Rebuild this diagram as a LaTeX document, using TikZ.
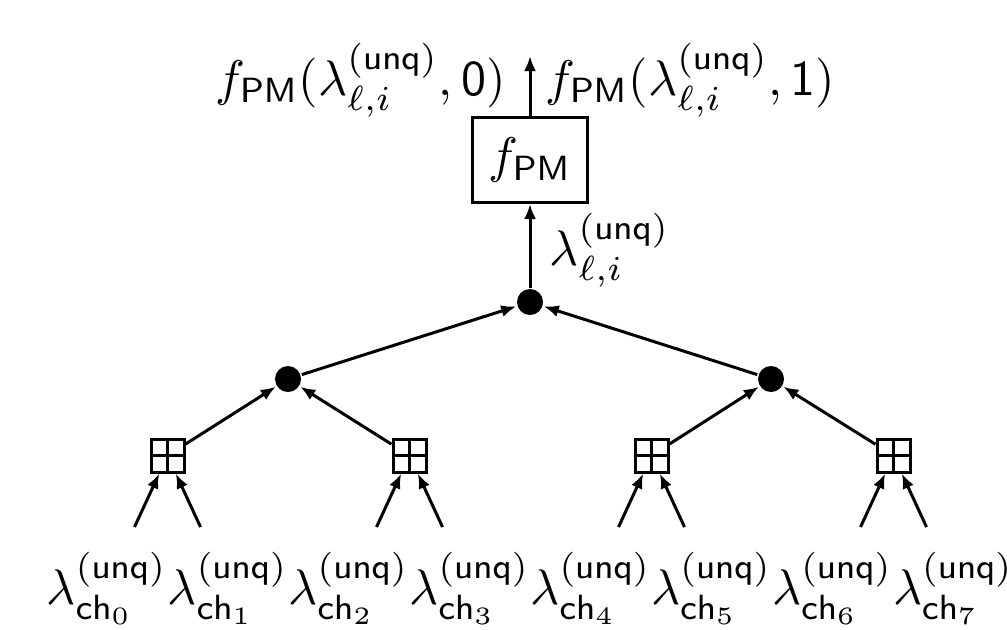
\documentclass[tikz,border=0pt]{standalone}
\usepackage{amsmath}
\usetikzlibrary{arrows.meta}
\begin{document}
\begin{tikzpicture}[x=0.2pt,y=-0.2pt,line width=0.6pt,
  >={Latex[length=3pt,width=2.4pt]},
  sumbox/.style={draw,rectangle,minimum size=6.6pt,inner sep=0pt,
    path picture={
      \draw (path picture bounding box.north) -- (path picture bounding box.south);
      \draw (path picture bounding box.west) -- (path picture bounding box.east);}},
  dotnode/.style={circle,fill=black,minimum size=5.2pt,inner sep=0pt},
  fnbox/.style={draw,rectangle,minimum width=23pt,minimum height=17pt,inner sep=0pt},
  lbl/.style={inner sep=0pt}]
\useasboundingbox (0,0) rectangle (1007,629);

% output function block and its output
\node[fnbox] (pm) at (530,160) {$f_{\mathsf{PM}}$};
\coordinate (out) at (530,56);
\node[lbl,anchor=base east] (o0) at (507,95) {$f_{\mathsf{PM}}(\lambda^{\mathsf{(unq)}}_{\ell,i},\mathsf{0})$};
\node[lbl,anchor=base west] (o1) at (544,95) {$f_{\mathsf{PM}}(\lambda^{\mathsf{(unq)}}_{\ell,i},\mathsf{1})$};

% combining tree
\node[dotnode] (root) at (530,302) {};
\node[dotnode] (m0) at (288,379) {};
\node[dotnode] (m1) at (771,379) {};
\node[lbl,anchor=west] (lr) at (548,250) {$\lambda^{\mathsf{(unq)}}_{\ell,i}$};

\foreach \i/\x in {0/167.5,1/409.5,2/651.5,3/893.5}{
  \node[sumbox] (s\i) at (\x,455.5) {};
  \coordinate (ta\i) at (\x-33,527);
  \coordinate (tb\i) at (\x+33,527);
}
\foreach \k in {0,...,7}{
  \node[lbl,anchor=base] (l\k) at (107+120.9*\k,604) {$\lambda^{\mathsf{(unq)}}_{\mathsf{ch}_{\k}}$};
}

% connectors
\draw[->] (pm) -- (out);
\draw[->] (root) -- (pm);
\draw[->] (m0) -- (root);
\draw[->] (m1) -- (root);
\draw[->] (s0) -- (m0);
\draw[->] (s1) -- (m0);
\draw[->] (s2) -- (m1);
\draw[->] (s3) -- (m1);
\foreach \i in {0,...,3}{
  \draw[->] (ta\i) -- (s\i);
  \draw[->] (tb\i) -- (s\i);
}
\end{tikzpicture}
\end{document}
